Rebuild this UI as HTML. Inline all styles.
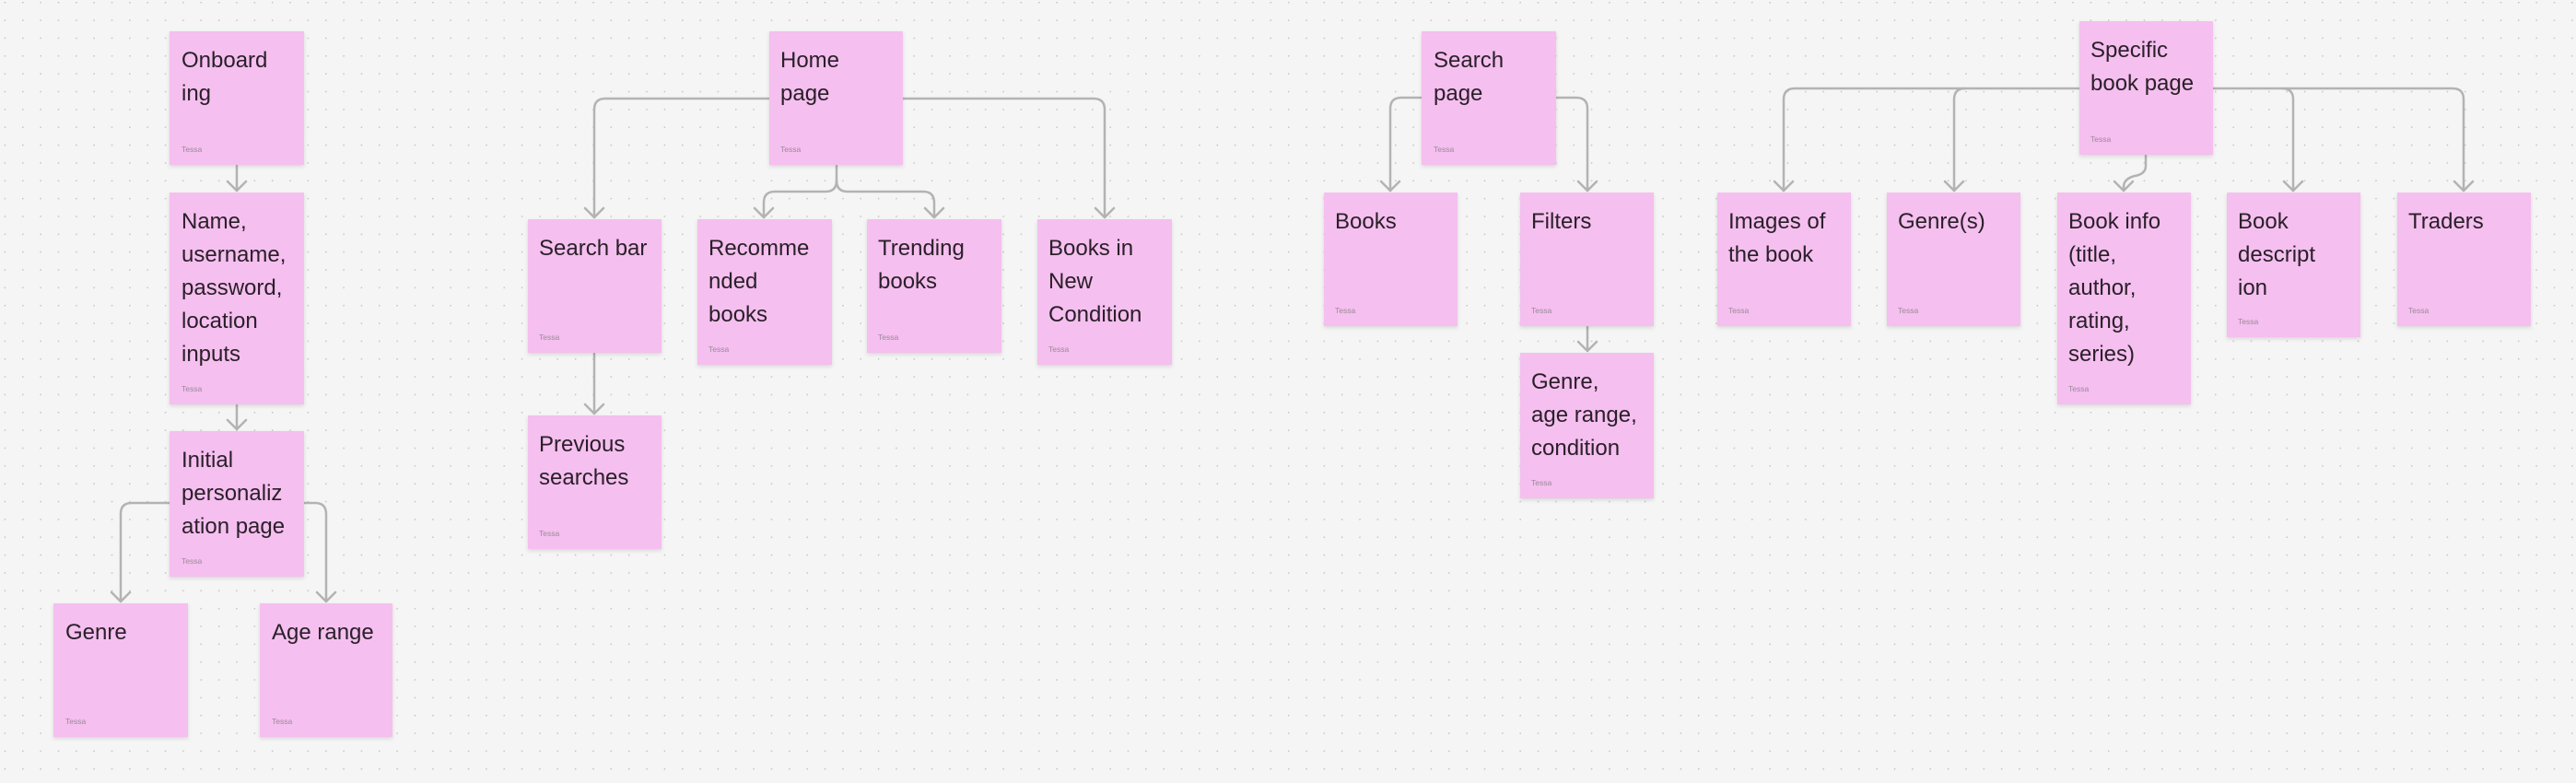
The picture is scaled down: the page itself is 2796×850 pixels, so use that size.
<!DOCTYPE html>
<html><head><meta charset="utf-8"><style>
html,body{margin:0;padding:0;background:#f5f5f5;}
svg{display:block;}
.n{fill:#f5bfef;filter:url(#sh);}
.t{font-family:"Liberation Sans",sans-serif;font-size:24px;fill:#2a2029;}
.s{font-family:"Liberation Sans",sans-serif;font-size:8.5px;fill:#9a8a98;}
.c{fill:none;stroke:#b3b3b3;stroke-width:2.5;stroke-linecap:round;stroke-linejoin:round;}
</style></head><body>
<svg width="2796" height="850" viewBox="0 0 2796 850" xmlns="http://www.w3.org/2000/svg">
<defs>
<pattern id="dots" x="4.7" y="2" width="19.35" height="19.35" patternUnits="userSpaceOnUse">
<circle cx="0.5" cy="0.5" r="1.1" fill="#c4c4c4"/></pattern>
<filter id="sh" x="-10%" y="-10%" width="120%" height="125%"><feDropShadow dx="0" dy="2" stdDeviation="2" flood-color="#000" flood-opacity="0.12"/></filter>
</defs>
<rect width="2796" height="850" fill="#f5f5f5"/>
<rect width="2796" height="850" fill="url(#dots)"/>

<g class="c">
<path d="M257 180 V207 M247 197 L257 207 L267 197"/>
<path d="M257 440 V466 M247 456 L257 466 L267 456"/>
<path d="M184 546 H143 Q131 546 131 558 V653 M121 643 L131 653 L141 643"/>
<path d="M330 546 H342 Q354 546 354 558 V653 M344 643 L354 653 L364 643"/>
<path d="M835 107 H657 Q645 107 645 119 V236 M635 226 L645 236 L655 226"/>
<path d="M980 107 H1187 Q1199 107 1199 119 V236 M1189 226 L1199 236 L1209 226"/>
<path d="M908 180 V196 Q908 208 896 208 H841 Q829 208 829 220 V236 M819 226 L829 236 L839 226"/>
<path d="M908 196 Q908 208 920 208 H1002 Q1014 208 1014 220 V236 M1004 226 L1014 236 L1024 226"/>
<path d="M645 384 V449 M635 439 L645 449 L655 439"/>
<path d="M1543 106 H1521 Q1509 106 1509 118 V207 M1499 197 L1509 207 L1519 197"/>
<path d="M1689 106 H1711 Q1723 106 1723 118 V207 M1713 197 L1723 207 L1733 197"/>
<path d="M1723 355 V381 M1713 371 L1723 381 L1733 371"/>
<path d="M2257 96 H1948 Q1936 96 1936 108 V207 M1926 197 L1936 207 L1946 197"/>
<path d="M2133 96 Q2121 96 2121 108 V207 M2111 197 L2121 207 L2131 197"/>
<path d="M2402 96 H2662 Q2674 96 2674 108 V207 M2664 197 L2674 207 L2684 197"/>
<path d="M2477 96 Q2489 96 2489 108 V207 M2479 197 L2489 207 L2499 197"/>
<path d="M2329 169 V180 Q2329 189 2317 191 Q2305 194 2305 203 V207 M2295 197 L2305 207 L2315 197"/>
</g>

<!-- notes -->
<g>
<rect class="n" x="184" y="34" width="146" height="145"/>
<text class="t" x="197" y="73"><tspan x="197">Onboard</tspan><tspan x="197" dy="36">ing</tspan></text>
<text class="s" x="197" y="165">Tessa</text>

<rect class="n" x="184" y="209" width="146" height="230"/>
<text class="t" x="197" y="248"><tspan x="197">Name,</tspan><tspan x="197" dy="36">username,</tspan><tspan x="197" dy="36">password,</tspan><tspan x="197" dy="36">location</tspan><tspan x="197" dy="36">inputs</tspan></text>
<text class="s" x="197" y="425">Tessa</text>

<rect class="n" x="184" y="468" width="146" height="158"/>
<text class="t" x="197" y="507"><tspan x="197">Initial</tspan><tspan x="197" dy="36">personaliz</tspan><tspan x="197" dy="36">ation page</tspan></text>
<text class="s" x="197" y="612">Tessa</text>

<rect class="n" x="58" y="655" width="146" height="145"/>
<text class="t" x="71" y="694">Genre</text>
<text class="s" x="71" y="786">Tessa</text>

<rect class="n" x="282" y="655" width="144" height="145"/>
<text class="t" x="295" y="694">Age range</text>
<text class="s" x="295" y="786">Tessa</text>

<rect class="n" x="835" y="34" width="145" height="145"/>
<text class="t" x="847" y="73"><tspan x="847">Home</tspan><tspan x="847" dy="36">page</tspan></text>
<text class="s" x="847" y="165">Tessa</text>

<rect class="n" x="573" y="238" width="145" height="145"/>
<text class="t" x="585" y="277">Search bar</text>
<text class="s" x="585" y="369">Tessa</text>

<rect class="n" x="573" y="451" width="145" height="145"/>
<text class="t" x="585" y="490"><tspan x="585">Previous</tspan><tspan x="585" dy="36">searches</tspan></text>
<text class="s" x="585" y="582">Tessa</text>

<rect class="n" x="757" y="238" width="146" height="158"/>
<text class="t" x="769" y="277"><tspan x="769">Recomme</tspan><tspan x="769" dy="36">nded</tspan><tspan x="769" dy="36">books</tspan></text>
<text class="s" x="769" y="382">Tessa</text>

<rect class="n" x="941" y="238" width="146" height="145"/>
<text class="t" x="953" y="277"><tspan x="953">Trending</tspan><tspan x="953" dy="36">books</tspan></text>
<text class="s" x="953" y="369">Tessa</text>

<rect class="n" x="1126" y="238" width="146" height="158"/>
<text class="t" x="1138" y="277"><tspan x="1138">Books in</tspan><tspan x="1138" dy="36">New</tspan><tspan x="1138" dy="36">Condition</tspan></text>
<text class="s" x="1138" y="382">Tessa</text>

<rect class="n" x="1543" y="34" width="146" height="145"/>
<text class="t" x="1556" y="73"><tspan x="1556">Search</tspan><tspan x="1556" dy="36">page</tspan></text>
<text class="s" x="1556" y="165">Tessa</text>

<rect class="n" x="1437" y="209" width="145" height="145"/>
<text class="t" x="1449" y="248">Books</text>
<text class="s" x="1449" y="340">Tessa</text>

<rect class="n" x="1650" y="209" width="145" height="145"/>
<text class="t" x="1662" y="248">Filters</text>
<text class="s" x="1662" y="340">Tessa</text>

<rect class="n" x="1650" y="383" width="145" height="158"/>
<text class="t" x="1662" y="422"><tspan x="1662">Genre,</tspan><tspan x="1662" dy="36">age range,</tspan><tspan x="1662" dy="36">condition</tspan></text>
<text class="s" x="1662" y="527">Tessa</text>

<rect class="n" x="2257" y="23" width="145" height="145"/>
<text class="t" x="2269" y="62"><tspan x="2269">Specific</tspan><tspan x="2269" dy="36">book page</tspan></text>
<text class="s" x="2269" y="154">Tessa</text>

<rect class="n" x="1864" y="209" width="145" height="145"/>
<text class="t" x="1876" y="248"><tspan x="1876">Images of</tspan><tspan x="1876" dy="36">the book</tspan></text>
<text class="s" x="1876" y="340">Tessa</text>

<rect class="n" x="2048" y="209" width="145" height="145"/>
<text class="t" x="2060" y="248">Genre(s)</text>
<text class="s" x="2060" y="340">Tessa</text>

<rect class="n" x="2233" y="209" width="145" height="230"/>
<text class="t" x="2245" y="248"><tspan x="2245">Book info</tspan><tspan x="2245" dy="36">(title,</tspan><tspan x="2245" dy="36">author,</tspan><tspan x="2245" dy="36">rating,</tspan><tspan x="2245" dy="36">series)</tspan></text>
<text class="s" x="2245" y="425">Tessa</text>

<rect class="n" x="2417" y="209" width="145" height="157"/>
<text class="t" x="2429" y="248"><tspan x="2429">Book</tspan><tspan x="2429" dy="36">descript</tspan><tspan x="2429" dy="36">ion</tspan></text>
<text class="s" x="2429" y="352">Tessa</text>

<rect class="n" x="2602" y="209" width="145" height="145"/>
<text class="t" x="2614" y="248">Traders</text>
<text class="s" x="2614" y="340">Tessa</text>
</g>
</svg>
</body></html>
